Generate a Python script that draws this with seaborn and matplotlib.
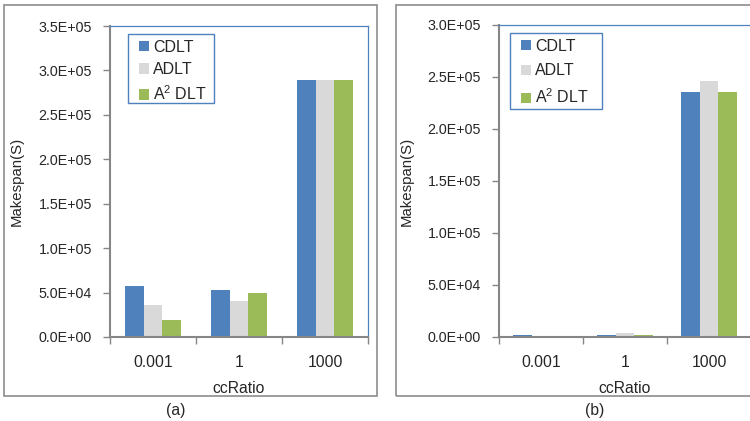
import matplotlib
matplotlib.use("Agg")
import matplotlib.pyplot as plt
import seaborn as sns
import pandas as pd
from matplotlib.patches import Rectangle, Patch
from matplotlib.ticker import FuncFormatter, FixedLocator

# ---- data ----
categories = ["0.001", "1", "1000"]
series = ["CDLT", "ADLT", "A2DLT"]
legend_labels = ["CDLT", "ADLT", "A$^2$ DLT"]
colors = ["#4F81BD", "#D9D9D9", "#9BBB59"]

a_cdlt = [57400, 52900, 288700]
a_adlt = [36400, 40200, 288700]
a_a2dlt = [18800, 49900, 288700]

b_cdlt = [1800, 1800, 235600]
b_adlt = [200, 3500, 246100]
b_a2dlt = [150, 1500, 235600]

a_ymax, a_step = 3.5e5, 5e4
b_ymax, b_step = 3.0e5, 5e4

sns.set_style("white")
plt.rcParams["font.family"] = ["Liberation Sans", "DejaVu Sans"]
plt.rcParams["mathtext.fontset"] = "custom"
plt.rcParams["mathtext.rm"] = "Liberation Sans"

W, H = 750, 421
fig = plt.figure(figsize=(W / 100, H / 100), dpi=100)


def make_df(c, a, g):
    rows = []
    for s, vals in zip(series, [c, a, g]):
        for cat, v in zip(categories, vals):
            rows.append({"ccRatio": cat, "series": s, "value": v})
    return pd.DataFrame(rows)


def fig_rect(x0, y0, x1, y1):
    return [x0 / W, 1 - y1 / H, (x1 - x0) / W, (y1 - y0) / H]


def draw(ax, df, ymax, step, leg_box, lspace, ylab_x, tag_x, tag):
    sns.barplot(data=df, x="ccRatio", y="value", hue="series", order=categories,
                hue_order=series, palette=colors, width=0.66, ax=ax,
                saturation=1, linewidth=0, legend=False)
    ax.set_xlim(-0.5, 2.5)
    ax.set_ylim(0, ymax)
    n = int(round(ymax / step))
    ax.yaxis.set_major_locator(FixedLocator([i * step for i in range(n + 1)]))
    ax.yaxis.set_major_formatter(FuncFormatter(lambda v, p: f"{v:.1E}"))
    ax.tick_params(axis="y", which="major", direction="out", length=5, width=1,
                   color="#868686", labelsize=10.3, pad=8, left=True)
    ax.set_xticks([0, 1, 2])
    ax.set_xticklabels(categories)
    ax.set_xticks([-0.5, 0.5, 1.5, 2.5], minor=True)
    ax.tick_params(axis="x", which="major", length=0, labelsize=11.3, pad=13)
    ax.tick_params(axis="x", which="minor", direction="out", length=5, width=1,
                   color="#868686", bottom=True)
    for side in ["left", "bottom"]:
        ax.spines[side].set_color("#868686")
        ax.spines[side].set_linewidth(1.5)
    for side in ["top", "right"]:
        ax.spines[side].set_visible(True)
        ax.spines[side].set_color("#4F81BD")
        ax.spines[side].set_linewidth(0.9)
    ax.set_ylabel("Makespan(S)", fontsize=10.8)
    ax.yaxis.set_label_coords(ylab_x, 0.5)
    ax.set_xlabel("ccRatio", fontsize=11.3)
    ax.xaxis.set_label_coords(0.5, -0.141)
    x0, y0, x1, y1 = leg_box
    handles = [Patch(facecolor=c, edgecolor="none") for c in colors]
    ax.legend(handles, legend_labels, loc="upper left",
              bbox_to_anchor=((x0 + 11) / W, 1 - (y0 + 6) / H),
              bbox_transform=fig.transFigure, fontsize=11.5,
              handlelength=0.6, handleheight=0.6, handletextpad=0.3,
              labelspacing=lspace, borderpad=0, borderaxespad=0,
              frameon=False)
    fig.patches.append(Rectangle((x0 / W, 1 - y1 / H), (x1 - x0) / W, (y1 - y0) / H,
                                 fill=False, edgecolor="#4F81BD", lw=1.0,
                                 transform=fig.transFigure, zorder=5))
    fig.text(tag_x / W, 1 - 410 / H, tag, ha="center", va="center", fontsize=11.3)


# chart-area frames
fig.patches.append(Rectangle((4 / W, 1 - 396 / H), 373 / W, 391 / H, fill=False,
                             edgecolor="#8C8C8C", lw=1.2, transform=fig.transFigure))
fig.patches.append(Rectangle((396 / W, 1 - 396 / H), 370 / W, 391 / H, fill=False,
                             edgecolor="#8C8C8C", lw=1.2, transform=fig.transFigure))

ax1 = fig.add_axes(fig_rect(110, 26, 368, 337))
draw(ax1, make_df(a_cdlt, a_adlt, a_a2dlt), a_ymax, a_step, (128, 34, 214, 103),
     0.45, -0.335, 176, "(a)")

ax2 = fig.add_axes(fig_rect(499, 25, 751, 337))
draw(ax2, make_df(b_cdlt, b_adlt, b_a2dlt), b_ymax, b_step, (510, 33, 602, 109),
     0.58, -0.337, 595, "(b)")

fig.savefig("out.png", dpi=100)
